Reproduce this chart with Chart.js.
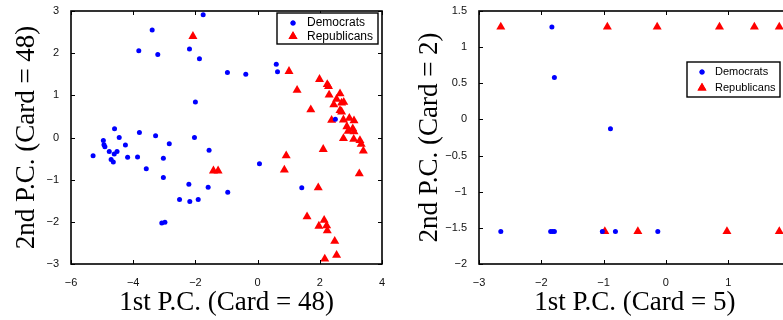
<!DOCTYPE html>
<html>
<head>
<meta charset="utf-8">
<script src="https://cdn.jsdelivr.net/npm/chart.js@4.4.1/dist/chart.umd.min.js"></script>
<style>
  html, body { margin: 0; padding: 0; background: #fff; overflow: hidden; }
  #wrap { position: relative; width: 783px; height: 320px; overflow: hidden; }
  canvas { position: absolute; top: 0; }
</style>
</head>
<body>
<div id="wrap">
  <canvas id="pc48" width="400" height="320" style="left:0"></canvas>
  <canvas id="pc5" width="400" height="320" style="left:400px"></canvas>
</div>
<script>
// left panel: cardinality 48 on both components
const demX48 = [-1.75,-3.39,-3.82,-3.21,-2.19,-1.87,-2.00,-4.60,-3.80,-3.28,-2.03,-4.45,-4.96,-4.94,-4.91,-4.25,-2.84,-1.56,-4.77,-4.52,-4.61,-5.29,-4.18,-3.86,-3.03,-4.71,-4.64,-3.58,-3.03,-2.21,-1.59,-2.51,-2.18,-1.91,-3.08,-2.98,0.06,-0.96,1.42,-0.97,-0.38,0.60,0.64,2.50];
const demY48 = [2.91,2.55,2.06,1.97,2.10,1.87,0.84,0.21,0.12,0.04,0.00,0.00,-0.07,-0.17,-0.22,-0.18,-0.15,-0.30,-0.33,-0.33,-0.39,-0.43,-0.47,-0.46,-0.49,-0.52,-0.58,-0.74,-0.95,-1.11,-1.18,-1.47,-1.52,-1.47,-2.03,-2.01,-0.62,-1.30,-1.19,1.54,1.50,1.74,1.56,0.43];
const repX48 = [-2.08,-1.42,-1.27,1.01,1.99,2.24,2.28,1.27,2.30,2.65,2.54,2.77,2.70,2.45,1.71,2.65,2.70,2.38,2.76,2.95,3.10,2.87,2.91,3.06,3.10,2.76,3.09,3.29,3.33,3.40,2.11,0.92,0.86,3.27,1.95,1.59,2.14,1.97,2.22,2.24,2.48,2.54,2.16];
const repY48 = [2.40,-0.79,-0.79,1.57,1.38,1.26,1.21,1.12,1.01,1.04,0.91,0.84,0.82,0.78,0.66,0.64,0.61,0.41,0.42,0.46,0.40,0.26,0.15,0.21,0.14,-0.02,-0.04,-0.07,-0.16,-0.32,-0.28,-0.43,-0.77,-0.86,-1.19,-1.88,-1.96,-2.10,-2.09,-2.21,-2.46,-2.79,-2.88];

// right panel: cardinality 5 / 2
const demX5 = [-1.83,-1.79,-0.89,-2.65,-1.85,-1.82,-1.79,-1.02,-0.81,-0.13];
const demY5 = [1.28,0.58,-0.13,-1.55,-1.55,-1.55,-1.55,-1.55,-1.55,-1.55];
const repX5 = [-2.65,-0.94,-0.14,0.86,1.42,1.82,-0.98,-0.45,0.98,1.82];
const repY5 = [1.28,1.28,1.28,1.28,1.28,1.28,-1.55,-1.55,-1.55,-1.55];

const xTicks48 = [-6,-4,-2,0,2,4];
const yTicks48 = [-3,-2,-1,0,1,2,3];
const xTicks5 = [-3,-2,-1,0,1,2];
const yTicks5 = [-2,-1.5,-1,-0.5,0,0.5,1,1.5];

const seriesNames = ['Democrats', 'Republicans'];

const zip = (xs, ys) => xs.map((v, i) => ({x: v, y: ys[i]}));
const minus = v => String(v).replace('-', '\u2212');

// box round the plot, inward ticks on all four sides, and the legend box
const framePlugin = {
    id: 'frame',
    afterDatasetsDraw(chart, args, opts) {
        const {ctx, chartArea: a, scales: {x, y}} = chart;
        ctx.save();
        ctx.strokeStyle = '#000';
        ctx.lineWidth = 1;
        ctx.beginPath();
        x.ticks.forEach(t => {
            const px = Math.round(x.getPixelForValue(t.value)) + 0.5;
            ctx.moveTo(px, a.bottom); ctx.lineTo(px, a.bottom - 4);
            ctx.moveTo(px, a.top); ctx.lineTo(px, a.top + 4);
        });
        y.ticks.forEach(t => {
            const py = Math.round(y.getPixelForValue(t.value)) + 0.5;
            ctx.moveTo(a.left, py); ctx.lineTo(a.left + 4, py);
            ctx.moveTo(a.right, py); ctx.lineTo(a.right - 4, py);
        });
        ctx.stroke();
        ctx.lineWidth = 1.6;
        ctx.strokeRect(a.left, a.top, a.right - a.left, a.bottom - a.top);

        const L = opts.legend;
        if (L) {
            ctx.fillStyle = '#fff';
            ctx.fillRect(L.x, L.y, L.w, L.h);
            ctx.lineWidth = 1.4;
            ctx.strokeRect(L.x, L.y, L.w, L.h);
            ctx.font = L.fontSize + 'px "Liberation Sans", Arial, sans-serif';
            ctx.textBaseline = 'middle';
            chart.data.datasets.forEach((ds, i) => {
                const cy = L.y + L.rows[i];
                ctx.fillStyle = ds.backgroundColor;
                Chart.helpers.drawPoint(ctx, {
                    pointStyle: ds.pointStyle, radius: ds.pointRadius, rotation: 0, borderWidth: 0
                }, L.x + L.marker, cy);
                ctx.fill();
                ctx.fillStyle = '#000';
                ctx.fillText(ds.label, L.x + L.text, cy);
            });
        }
        ctx.restore();
    }
};

function makeChart(id, dem, rep, xr, yr, xTicks, yTicks, xTitle, yTitle, layout, legend) {
    const tickFont = {family: '"Liberation Sans", Arial, sans-serif', size: 11};
    const titleFont = {family: '"Liberation Serif", "Times New Roman", serif', size: 27};
    return new Chart(document.getElementById(id), {
        type: 'scatter',
        data: {
            datasets: [{
                label: seriesNames[0],
                data: dem,
                pointStyle: 'circle',
                pointRadius: 2.5,
                borderWidth: 0,
                backgroundColor: '#0000ff'
            }, {
                label: seriesNames[1],
                data: rep,
                pointStyle: 'triangle',
                pointRadius: 5.2,
                borderWidth: 0,
                backgroundColor: '#ff0000'
            }]
        },
        options: {
            responsive: false,
            animation: false,
            devicePixelRatio: 1,
            layout: {padding: layout.padding},
            plugins: {
                legend: {display: false},
                tooltip: {enabled: false},
                frame: {legend: legend}
            },
            scales: {
                x: {
                    type: 'linear',
                    min: xr[0], max: xr[1],
                    grid: {display: false},
                    border: {display: false},
                    afterBuildTicks: s => { s.ticks = xTicks.map(v => ({value: v})); },
                    afterFit: s => { s.height = layout.xHeight; },
                    ticks: {font: tickFont, color: '#111', padding: 4, maxRotation: 0, callback: minus},
                    title: {display: true, text: xTitle, font: titleFont, color: '#000', padding: {top: 0, bottom: 0.5}}
                },
                y: {
                    type: 'linear',
                    min: yr[0], max: yr[1],
                    grid: {display: false},
                    border: {display: false},
                    afterBuildTicks: s => { s.ticks = yTicks.map(v => ({value: v})); },
                    afterFit: s => { s.width = layout.yWidth; },
                    ticks: {font: tickFont, color: '#111', padding: 4, callback: minus},
                    title: {display: true, text: yTitle, font: titleFont, color: '#000', padding: {top: layout.yTitlePad, bottom: 0}}
                }
            }
        },
        plugins: [framePlugin]
    });
}

makeChart('pc48', zip(demX48, demY48), zip(repX48, repY48), [-6, 4], [-3, 3],
    xTicks48, yTicks48, '1st P.C. (Card = 48)', '2nd P.C. (Card = 48)',
    {padding: {top: 11, right: 18, bottom: 0, left: 0}, xHeight: 56, yWidth: 71, yTitlePad: 10.8},
    {x: 277, y: 13, w: 101, h: 31, marker: 16, text: 30, rows: [10, 23.5], fontSize: 12});

makeChart('pc5', zip(demX5, demY5), zip(repX5, repY5), [-3, 2], [-2, 1.5],
    xTicks5, yTicks5, '1st P.C. (Card = 5)', '2nd P.C. (Card = 2)',
    {padding: {top: 11, right: 9.5, bottom: 0, left: 0}, xHeight: 56, yWidth: 79, yTitlePad: 13.8},
    {x: 287, y: 62, w: 93, h: 35, marker: 15, text: 28, rows: [10, 26], fontSize: 11});
</script>
</body>
</html>
